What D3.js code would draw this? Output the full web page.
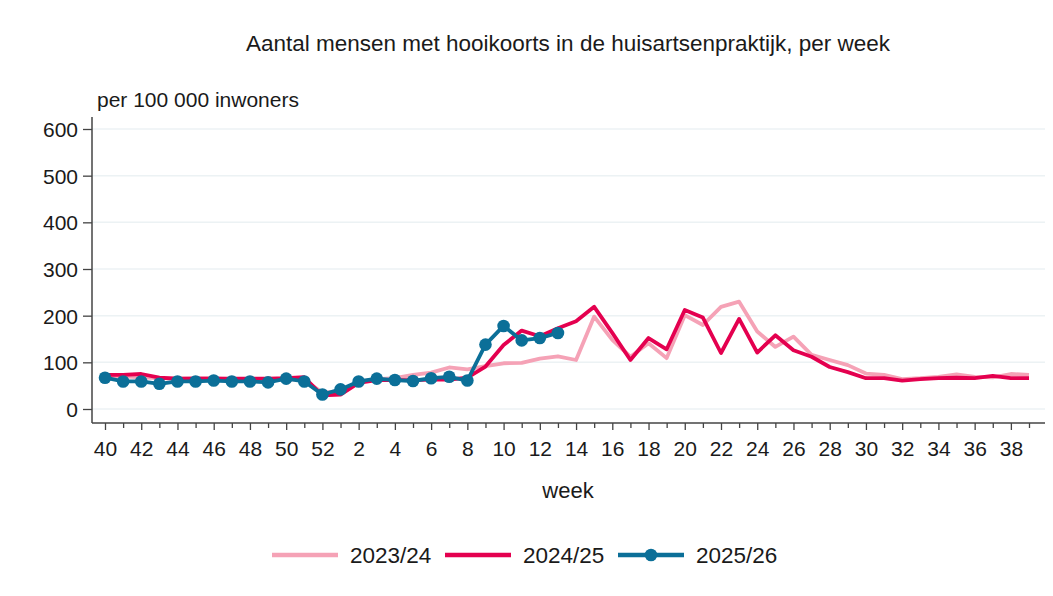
<!DOCTYPE html>
<html>
<head>
<meta charset="utf-8">
<script src="https://cdn.jsdelivr.net/npm/d3@7"></script>
<style>
  body { margin: 0; background: #fff; }
  text { font-family: "Liberation Sans", Arial, sans-serif; fill: #1a1a1a; }
</style>
</head>
<body>
<div id="chart"></div>
<script>
// weeks 40..52 then 1..39
var weeks = d3.range(40, 53).concat(d3.range(1, 40));
var tickLabels = weeks.filter(function(w, i) { return i % 2 === 0; });
var yTicks = [0, 100, 200, 300, 400, 500, 600];

var s2324 = [70, 70, 68, 66, 65, 66, 66, 64, 64, 63, 64, 62, 35, 38, 58, 64, 66, 73, 78, 89,
  85, 92, 98, 99, 108, 113, 105, 198, 148, 112, 141, 109, 201, 180, 219, 230, 166, 133, 155, 116,
  105, 94, 76, 73, 64, 66, 69, 74, 69, 68, 75, 73];
var s2425 = [73, 73, 75, 67, 65, 65, 65, 65, 65, 65, 66, 68, 29, 31, 56, 62, 62, 62, 63, 63,
  67, 91, 137, 168, 156, 173, 188, 219, 163, 105, 152, 128, 212, 196, 120, 193, 121, 158, 126, 112,
  90, 79, 66, 66, 61, 64, 66, 67, 66, 71, 66, 66];
var s2526 = [67, 59, 59, 54, 59, 59, 61, 59, 59, 57, 65, 59, 31, 42, 59, 65, 62, 60, 66, 69,
  61, 138, 178, 147, 152, 163];

var seriesNames = ["2023/24", "2024/25", "2025/26"];
var colors = ["#f5a2b6", "#e4004f", "#0b6f98"];

var svgWidth = 1053, svgHeight = 596;

var svg = d3.select("#chart").append("svg")
  .attr("width", svgWidth)
  .attr("height", svgHeight);

var x = d3.scalePoint()
  .domain(weeks)
  .range([105, 1029]);

var y = d3.scaleLinear()
  .domain([0, 600])
  .range([409, 129]);

var axisX = 92, axisY = 423, rightEdge = 1045;

// gridlines
svg.append("g").selectAll("line")
  .data(yTicks)
  .enter().append("line")
  .attr("x1", axisX).attr("x2", rightEdge)
  .attr("y1", d => y(d)).attr("y2", d => y(d))
  .attr("stroke", "#ecf2f4")
  .attr("stroke-width", 1.5);

// y axis
var leftAxis = d3.axisLeft(y).tickValues(yTicks).tickSize(9).tickPadding(5);
var yAxis = svg.append("g")
  .attr("transform", `translate(${axisX},0)`)
  .call(leftAxis);
yAxis.select(".domain").remove();
yAxis.append("line")
  .attr("x1", 0).attr("x2", 0)
  .attr("y1", 117).attr("y2", axisY)
  .attr("stroke", "#444").attr("stroke-width", 1.5);

// x axis
var bottomAxis = d3.axisBottom(x)
  .tickSize(6)
  .tickPadding(12)
  .tickFormat(d => tickLabels.indexOf(d) >= 0 ? d : "");
var xAxis = svg.append("g")
  .attr("transform", `translate(0,${axisY})`)
  .call(bottomAxis);
xAxis.select(".domain").remove();
xAxis.append("line")
  .attr("x1", axisX).attr("x2", rightEdge)
  .attr("y1", 0).attr("y2", 0)
  .attr("stroke", "#444").attr("stroke-width", 1.5);
xAxis.selectAll(".tick line")
  .attr("y2", d => tickLabels.indexOf(d) >= 0 ? 7 : 5);

svg.selectAll(".tick line").attr("stroke", "#444").attr("stroke-width", 1.3);
svg.selectAll(".tick text")
  .style("font-family", "'Liberation Sans', Arial, sans-serif")
  .style("font-size", "21px")
  .attr("fill", "#1a1a1a");
yAxis.selectAll(".tick text").attr("dy", "0.35em");

// lines
var line = d3.line()
  .x((d, i) => x(weeks[i]))
  .y(d => y(d));

[s2324, s2425, s2526].forEach(function(s, k) {
  svg.append("path")
    .datum(s)
    .attr("d", line)
    .attr("fill", "none")
    .attr("stroke", colors[k])
    .attr("stroke-width", 3.8)
    .attr("stroke-linejoin", "round");
});

svg.append("g").selectAll("circle")
  .data(s2526)
  .enter().append("circle")
  .attr("cx", (d, i) => x(weeks[i]))
  .attr("cy", d => y(d))
  .attr("r", 6.3)
  .attr("fill", colors[2]);

// titles
svg.append("text")
  .attr("x", 568).attr("y", 51)
  .attr("text-anchor", "middle")
  .style("font-size", "22.5px")
  .text("Aantal mensen met hooikoorts in de huisartsenpraktijk, per week");

svg.append("text")
  .attr("x", 97).attr("y", 107)
  .style("font-size", "21px")
  .text("per 100 000 inwoners");

svg.append("text")
  .attr("x", 568).attr("y", 498)
  .attr("text-anchor", "middle")
  .style("font-size", "22px")
  .text("week");

// legend
var legendX = [272, 445, 618];
var legend = svg.append("g");
seriesNames.forEach(function(name, k) {
  var g = legend.append("g").attr("transform", `translate(${legendX[k]},555)`);
  g.append("line")
    .attr("x1", 0).attr("x2", 66)
    .attr("stroke", colors[k]).attr("stroke-width", 4.5);
  if (k === 2) {
    g.append("circle").attr("cx", 33).attr("r", 6.3).attr("fill", colors[k]);
  }
  g.append("text")
    .attr("x", 78).attr("y", 8)
    .style("font-size", "22.5px")
    .text(name);
});
</script>
</body>
</html>
